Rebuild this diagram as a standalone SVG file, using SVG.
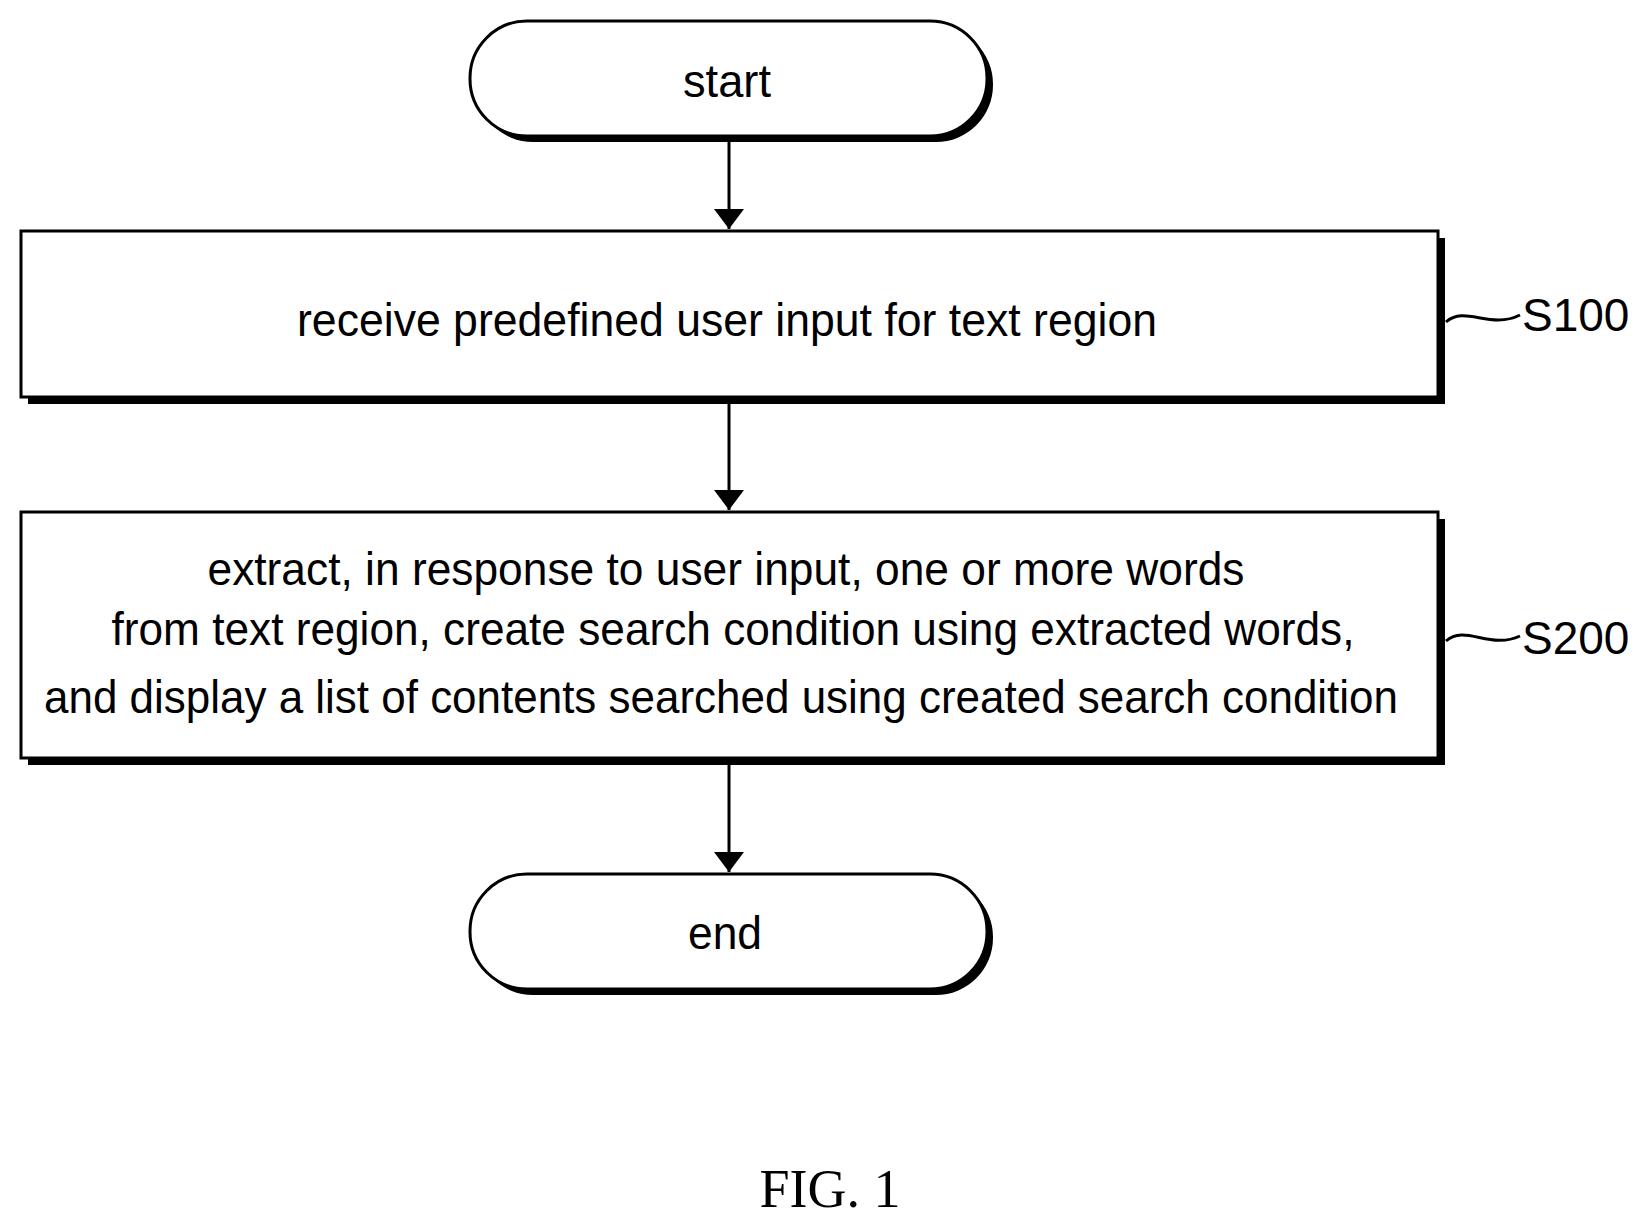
<svg xmlns="http://www.w3.org/2000/svg" width="1637" height="1226" viewBox="0 0 1637 1226">
<style>
.b{fill:#fff;stroke:#000;stroke-width:3}
.s{fill:#000}
.t{font-family:"Liberation Sans",Arial,sans-serif;font-size:46px;text-anchor:middle;fill:#000}
.l{font-family:"Liberation Sans",Arial,sans-serif;font-size:46px;fill:#000}
.c{stroke:#000;stroke-width:3;fill:none}
</style>
<defs><marker id="a" markerWidth="10" markerHeight="12" refX="9" refY="6" orient="auto" markerUnits="userSpaceOnUse" viewBox="0 0 10 12"><path d="M0,0L10,6L0,12z" fill="#000"/></marker>
<marker id="ah" viewBox="0 0 20 30" refX="20" refY="15" markerWidth="20" markerHeight="30" orient="auto" markerUnits="userSpaceOnUse"><path d="M0,0L20,15L0,30z" fill="#000"/></marker></defs>
<rect width="1637" height="1226" fill="#fff"/>
<g id="connectors">
<line class="c" x1="729" y1="138" x2="729" y2="229" marker-end="url(#ah)"/>
<line class="c" x1="729" y1="400" x2="729" y2="510" marker-end="url(#ah)"/>
<line class="c" x1="729" y1="762" x2="729" y2="872" marker-end="url(#ah)"/>
<path class="c" d="M1446,322 C1465,305 1490,330 1520,315" stroke-width="2"/>
<path class="c" d="M1446,641 C1465,624 1490,650 1520,636" stroke-width="2"/>
</g>
<g id="start">
<rect class="s" x="476" y="27" width="517" height="115" rx="57"/>
<rect class="b" x="470" y="21" width="517" height="115" rx="57"/>
<text class="t" x="727" y="97" textLength="88" lengthAdjust="spacingAndGlyphs">start</text>
</g>
<g id="S100">
<rect class="s" x="28" y="238" width="1417" height="166"/>
<rect class="b" x="21" y="231" width="1417" height="166"/>
<text class="t" x="727" y="336" textLength="860" lengthAdjust="spacingAndGlyphs">receive predefined user input for text region</text>
<text class="l" x="1522" y="331">S100</text>
</g>
<g id="S200">
<rect class="s" x="28" y="519" width="1417" height="246"/>
<rect class="b" x="21" y="512" width="1417" height="246"/>
<text class="t" x="726" y="585" textLength="1037" lengthAdjust="spacingAndGlyphs">extract, in response to user input, one or more words</text>
<text class="t" x="733" y="645" textLength="1243" lengthAdjust="spacingAndGlyphs">from text region, create search condition using extracted words,</text>
<text class="t" x="721" y="713" textLength="1354" lengthAdjust="spacingAndGlyphs">and display a list of contents searched using created search condition</text>
<text class="l" x="1522" y="654">S200</text>
</g>
<g id="end">
<rect class="s" x="476" y="880" width="517" height="115" rx="57"/>
<rect class="b" x="470" y="874" width="517" height="115" rx="57"/>
<text class="t" x="725" y="949" textLength="74" lengthAdjust="spacingAndGlyphs">end</text>
</g>
<text x="830" y="1207" font-family="Liberation Serif,serif" font-size="54" text-anchor="middle">FIG. 1</text>
</svg>
